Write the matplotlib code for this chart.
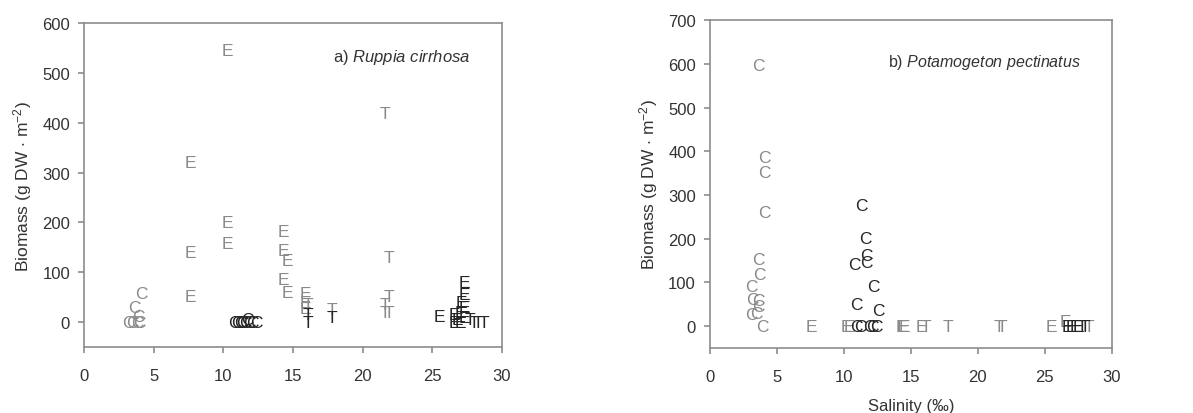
import matplotlib
matplotlib.use("Agg")
import matplotlib.pyplot as plt

plt.rcParams['font.family'] = ['Liberation Sans', 'DejaVu Sans']
plt.rcParams['mathtext.fontset'] = 'custom'
plt.rcParams['mathtext.rm'] = 'Liberation Sans'
plt.rcParams['mathtext.it'] = 'Liberation Sans:italic'

GRAY = '#8a8a8a'
DARK = '#262626'
AXC = '#8c8c8c'
TXT = '#333333'

# panel a) Ruppia cirrhosa : salinity, biomass, letter, dark(1)/gray(0)
a_sal = [3.2, 3.5, 3.8, 4.0, 3.6, 3.9, 4.1,
         7.6, 7.6, 7.6, 10.3, 10.3, 10.3, 14.3, 14.3, 14.6, 14.3, 14.6, 15.9, 15.9, 15.9,
         16.1, 17.8, 21.6, 21.9, 21.9, 21.6, 21.6, 21.9,
         10.8, 11.0, 11.2, 11.4, 11.6, 11.7, 11.9, 12.1, 12.4,
         16.1, 16.1, 17.8,
         25.5, 26.6, 26.8, 26.6, 27.0, 27.3, 27.0, 27.3, 27.3, 27.1, 27.3,
         27.7, 28.0, 28.3, 28.7]
a_bio = [0, 0, 0, 0, 30, 12, 58,
         321, 140, 52, 545, 200, 157, 182, 143, 124, 86, 60, 58, 40, 28,
         35, 25, 418, 130, 52, 35, 20, 20,
         0, 0, 0, 0, 0, 5, 0, 0, 0,
         15, 0, 10,
         12, 15, 5, 0, 20, 10, 0, 80, 55, 40, 30,
         5, 0, 0, 0]
a_lab = list("CCCCCCC" + "EEEEEEEEEEEEEE" + "TTTTTTTT" + "CCCCCCCCC" + "TTT" + "EEEEEEEEEEE" + "TTTT")
a_dark = [0] * 7 + [0] * 14 + [0] * 8 + [1] * 9 + [1] * 3 + [1] * 11 + [1] * 4

# panel b) Potamogeton pectinatus
b_sal = [3.6, 4.1, 4.1, 4.1, 3.6, 3.7, 3.1, 3.2, 3.6, 3.6, 3.1, 3.5, 3.9,
         7.6, 10.2, 10.4, 14.3, 14.4, 14.5, 15.8, 25.5, 26.5,
         16.1, 17.8, 21.6, 21.8, 28.3,
         11.3, 11.6, 11.7, 11.7, 10.8, 12.2, 10.9, 12.55, 10.9, 11.2, 11.9, 12.1, 12.4,
         26.7, 27.0, 27.3, 27.5,
         27.8, 28.0]
b_bio = [596, 386, 352, 259, 152, 117, 91, 62, 58, 45, 27, 30, 0,
         0, 0, 0, 0, 0, 0, 0, 0, 10,
         0, 0, 0, 0, 0,
         277, 201, 162, 145, 140, 91, 50, 35, 0, 0, 0, 0, 0,
         0, 0, 0, 0,
         0, 0]
b_lab = list("C" * 13 + "E" * 9 + "T" * 5 + "C" * 13 + "E" * 4 + "T" * 2)
b_dark = [0] * 13 + [0] * 9 + [0] * 5 + [1] * 13 + [1] * 4 + [1] * 2

xticks = [0, 5, 10, 15, 20, 25, 30]


def panel(ax, sal, bio, lab, dark, ylim, yticks, title, tx, ty, tsize):
    for x, y, s, d in zip(sal, bio, lab, dark):
        ax.text(x, y, s, ha='center', va='center', fontsize=12.5,
                color=DARK if d else GRAY)
    ax.set_xlim(0, 30)
    ax.set_ylim(*ylim)
    ax.set_xticks(xticks)
    ax.set_yticks(yticks)
    for sp in ax.spines.values():
        sp.set_color(AXC)
        sp.set_linewidth(1.2)
    ax.tick_params(direction='out', color=AXC, labelcolor=TXT, labelsize=12,
                   length=4, width=1.2)
    ax.tick_params(axis='x', pad=11)
    ax.tick_params(axis='y', pad=6)
    ax.set_ylabel(r'Biomass (g DW $\cdot$ m$^{-2}$)', fontsize=12.5, color=TXT,
                  labelpad=6)
    ax.text(tx, ty, title, fontsize=tsize, color=TXT, ha='left', va='center')


fig = plt.figure(figsize=(11.93, 4.14), dpi=100)
ax1 = fig.add_axes([0.0704, 0.159, 0.3504, 0.783])
ax2 = fig.add_axes([0.595, 0.157, 0.337, 0.792])

panel(ax1, a_sal, a_bio, a_lab, a_dark, (-50, 600), range(0, 601, 100),
      r'a) $\it{Ruppia\ cirrhosa}$', 17.9, 532, 12)
panel(ax2, b_sal, b_bio, b_lab, b_dark, (-50, 700), range(0, 701, 100),
      r'b) $\it{Potamogeton\ pectinatus}$', 13.3, 605, 11.5)
ax2.set_xlabel('Salinity (‰)', fontsize=12, color=TXT, labelpad=10)

fig.savefig('out.png', dpi=100)
